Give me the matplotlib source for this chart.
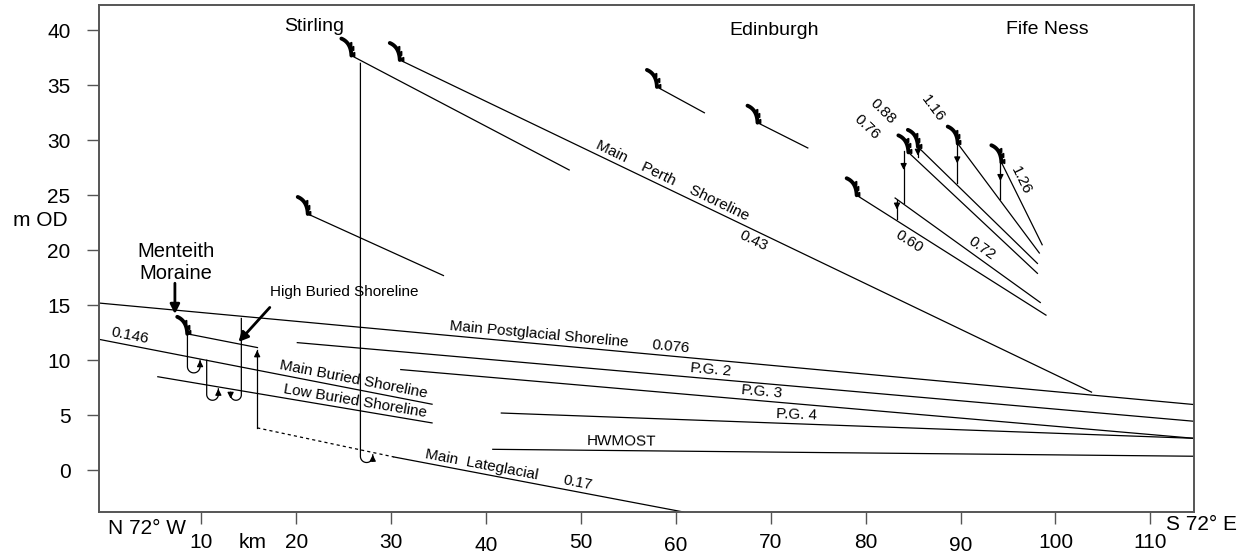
import numpy as np
import matplotlib
matplotlib.use("Agg")
import matplotlib.pyplot as plt
from matplotlib import transforms

plt.rcParams['font.family'] = ['Liberation Sans', 'DejaVu Sans']

# shorelines as (x0, y0, x1, y1) -> km along profile, m OD
stirling_line = (25.8, 37.7, 48.75, 27.3)
main_perth = (30.9, 37.3, 103.8, 7.1)
forth_low = (21.2, 23.3, 35.5, 17.7)
edinburgh_a = (58.0, 34.85, 63.0, 32.5)
edinburgh_b = (68.6, 31.6, 73.9, 29.3)
fife_060 = (79.05, 25.0, 99.0, 14.1)
fife_072 = (83.1, 24.75, 98.4, 15.25)
fife_076 = (84.5, 28.9, 98.1, 17.9)
fife_088 = (85.5, 29.4, 98.1, 18.8)
fife_116 = (89.7, 29.7, 98.3, 19.75)
fife_126 = (94.3, 28.0, 98.6, 20.5)
main_postglacial = (-0.8, 15.2, 114.6, 5.97)
pg2 = (20.1, 11.6, 114.6, 4.45)
pg3 = (31.0, 9.15, 114.6, 2.9)
pg4 = (41.6, 5.2, 114.6, 2.9)
hwmost = (40.7, 1.9, 114.6, 1.27)
main_buried = (-0.8, 11.9, 34.3, 6.0)
low_buried = (5.4, 8.5, 34.3, 4.3)
high_buried = (8.5, 12.4, 15.9, 11.15)
lateglacial_dashed = (15.87, 3.85, 30.3, 1.2)
lateglacial = (30.3, 1.2, 60.8, -3.8)

# fife vertical links: x, y top, y bottom, arrow y
fife_links = [(83.3, 24.6, 22.8, 23.7), (84.0, 29.0, 24.3, 27.3),
              (85.5, 29.4, 28.5, 28.6), (89.65, 29.7, 26.1, 27.9),
              (94.2, 28.0, 24.7, 26.3)]
# curls: x left, y start, x right, y arrow end, y bottom, down arrow on left
curls = [(8.52, 12.45, 9.85, 10.0, 8.85, False),
         (10.55, 10.0, 11.78, 7.4, 6.36, False),
         (13.07, 7.0, 14.2, 13.8, 6.36, True),
         (26.75, 37.0, 28.05, 1.4, 0.7, False)]
rise_x, rise_y0, rise_y1 = 15.87, 3.85, 10.9

xticks = [10, 20, 30, 40, 50, 60, 70, 80, 90, 100, 110]
yticks = [0, 5, 10, 15, 20, 25, 30, 35, 40]

fig = plt.figure(figsize=(12.38, 5.56), dpi=100)
ax = fig.add_axes([99 / 1238, 44 / 556, 1095 / 1238, 507 / 556])
ax.set_xlim(-0.8, 114.6)
ax.set_ylim(-3.8, 42.3)

for s in ax.spines.values():
    s.set_color('#555555')
    s.set_linewidth(1.4)
ax.set_yticks(yticks)
ax.set_yticklabels([str(v) for v in yticks], fontsize=15)
ax.set_xticks(xticks)
ax.set_xticklabels([])
ax.tick_params(direction='out', length=8.5, width=1, color='#555555', pad=12)

xlab = transforms.blended_transform_factory(ax.transData, fig.transFigure)
low = {40, 60, 90}
for v in xticks:
    ax.text(v, 0.018 if v in low else 0.024, str(v), transform=xlab,
            ha='center', va='center', fontsize=15)
ax.text(15.4, 0.024, 'km', transform=xlab, ha='center', va='center', fontsize=15)
ax.text(4.3, 0.05, 'N 72° W', transform=xlab, ha='center', va='center', fontsize=15)
fig.text(1201 / 1238, 0.056, 'S 72° E', ha='center', va='center', fontsize=15)
ax.text(-0.054, 22.7, 'm OD', transform=transforms.blended_transform_factory(ax.transAxes, ax.transData),
        ha='center', va='center', fontsize=15)


def seg(line, **kw):
    x0, y0, x1, y1 = line
    ax.plot([x0, x1], [y0, y1], color='black', lw=0.9, **kw)


def line_y(line, x):
    x0, y0, x1, y1 = line
    return y0 + (y1 - y0) * (x - x0) / (x1 - x0)


def angle(line):
    x0, y0, x1, y1 = line
    p0 = ax.transData.transform((x0, y0))
    p1 = ax.transData.transform((x1, y1))
    return np.degrees(np.arctan2(p1[1] - p0[1], p1[0] - p0[0]))


def along(line, x, text, above=True, gap=2, size=11):
    a = angle(line)
    g = gap if above else -gap
    nx, ny = -np.sin(np.radians(a)) * g, np.cos(np.radians(a)) * g
    tr = transforms.offset_copy(ax.transData, fig=fig, x=nx, y=ny, units='dots')
    ax.text(x, line_y(line, x), text, rotation=a, rotation_mode='anchor',
            ha='center', va='bottom' if above else 'top', transform=tr, fontsize=size)


def scarp(x, y):
    tr = fig.dpi_scale_trans + transforms.ScaledTranslation(x, y, ax.transData)
    t = np.linspace(0, 1, 20)
    p0, p1, p2 = np.array([-0.10, 0.17]), np.array([-0.005, 0.13]), np.array([0.0, 0.0])
    pts = ((1 - t) ** 2)[:, None] * p0 + (2 * t * (1 - t))[:, None] * p1 + (t ** 2)[:, None] * p2
    ax.plot(pts[:, 0], pts[:, 1], color='black', lw=2.8, transform=tr, solid_capstyle='round')
    for k in (8, 13, 18):
        ax.plot(pts[k, 0] + 0.018, pts[k, 1], marker=(3, 0, 90), ms=3.5, color='black',
                transform=tr, lw=0)


def arrow_head(x, y0, y1, scale=9):
    ax.annotate('', xy=(x, y1), xytext=(x, y0),
                arrowprops=dict(arrowstyle='-|>', color='black', lw=0.9,
                                mutation_scale=scale, shrinkA=0, shrinkB=0))


# lines
for ln in [stirling_line, main_perth, forth_low, edinburgh_a, edinburgh_b,
           fife_060, fife_072, fife_076, fife_088, fife_116, fife_126,
           main_postglacial, pg2, pg3, pg4, hwmost, main_buried, low_buried,
           high_buried, lateglacial]:
    seg(ln)
seg(lateglacial_dashed, ls=(0, (2.5, 2.5)))

for ln in [stirling_line, main_perth, forth_low, edinburgh_a, edinburgh_b,
           fife_060, fife_076, fife_088, fife_116, fife_126]:
    scarp(ln[0], ln[1])
scarp(high_buried[0], high_buried[1])

for x, yt, yb, ya in fife_links:
    ax.plot([x, x], [yt, yb], color='black', lw=0.9)
    arrow_head(x, ya + 0.6, ya, scale=9)

ry_per_rx = (1095 / 115.4) / (507 / 46.1)
for xl, ys, xr, ye, yb, down in curls:
    r = (xr - xl) / 2
    ry = r * ry_per_rx
    th = np.linspace(np.pi, 2 * np.pi, 30)
    cx, cy = xl + r, yb + ry
    xs = np.concatenate([[xl], xl + r + r * np.cos(th), [xr]])
    ys_ = np.concatenate([[ys], cy + ry * np.sin(th), [ye]])
    ax.plot(xs, ys_, color='black', lw=0.9)
    if down:
        arrow_head(xl, ys + 0.1, ys - 0.5, scale=9)
    else:
        arrow_head(xr, ye - 0.6, ye, scale=9)

ax.plot([rise_x, rise_x], [rise_y0, rise_y1], color='black', lw=0.9)
arrow_head(rise_x, rise_y1 - 0.6, rise_y1, scale=9)

# thick pointers
ax.annotate('', xy=(7.2, 14.2), xytext=(7.2, 17.0),
            arrowprops=dict(arrowstyle='-|>', color='black', lw=2, mutation_scale=14, shrinkA=0, shrinkB=0))
ax.annotate('', xy=(13.9, 11.66), xytext=(17.2, 14.8),
            arrowprops=dict(arrowstyle='-|>', color='black', lw=2, mutation_scale=14, shrinkA=0, shrinkB=0))

# labels
ax.text(21.9, 40.3, 'Stirling', ha='center', va='center', fontsize=14)
ax.text(70.3, 40.0, 'Edinburgh', ha='center', va='center', fontsize=14)
ax.text(99.1, 40.1, 'Fife Ness', ha='center', va='center', fontsize=14)
ax.text(7.3, 18.9, 'Menteith\nMoraine', ha='center', va='center', fontsize=14.5)
ax.text(25.0, 16.2, 'High Buried Shoreline', ha='center', va='center', fontsize=11)

along(main_perth, 59.2, 'Main    Perth    Shoreline')
along(main_perth, 68.6, '0.43', above=False, gap=3)
along(main_postglacial, 45.5, 'Main Postglacial Shoreline')
along(main_postglacial, 59.4, '0.076')
along(pg2, 63.6, 'P.G. 2')
along(pg3, 69.0, 'P.G. 3')
along(pg4, 72.7, 'P.G. 4')
along(hwmost, 54.3, 'HWMOST')
along(main_buried, 25.8, 'Main Buried Shoreline')
along(low_buried, 26.0, 'Low Buried Shoreline')
along(main_buried, 2.25, '0.146')
along(lateglacial, 39.3, 'Main  Lateglacial')
along(lateglacial, 49.5, '0.17')
along(fife_060, 85.2, '0.60', above=False, gap=4)
along(fife_072, 91.6, '0.72', gap=3)
for ln, x, y, t in [(fife_076, 80.1, 31.2, '0.76'), (fife_088, 81.85, 32.6, '0.88'),
                    (fife_116, 87.1, 32.9, '1.16'), (fife_126, 96.4, 26.3, '1.26')]:
    ax.text(x, y, t, rotation=angle(ln), rotation_mode='anchor', ha='center', va='center', fontsize=11)

fig.savefig('out.png', dpi=100)
